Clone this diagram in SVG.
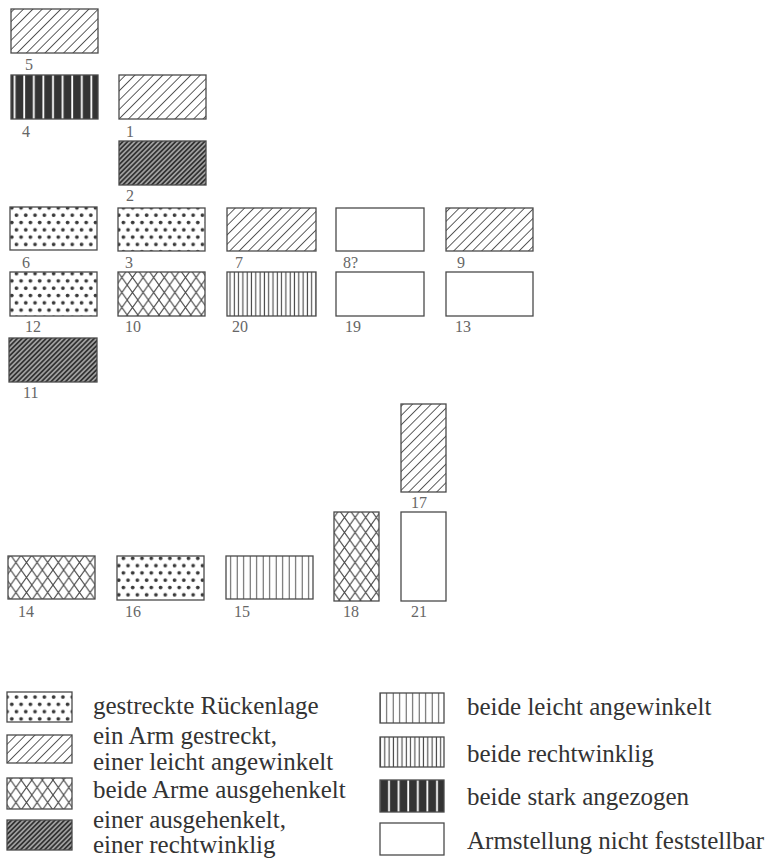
<svg xmlns="http://www.w3.org/2000/svg" width="777" height="859" viewBox="0 0 777 859">
<style>
.b{stroke:#4a4a4a;stroke-width:1.3}
.n{font-family:"Liberation Serif","Times New Roman",serif;font-size:16px;fill:#666}
.t{font-family:"Liberation Serif","Times New Roman",serif;font-size:25px;fill:#333}
</style>
<defs>
<pattern id="hatch" patternUnits="userSpaceOnUse" width="6.6" height="10" patternTransform="rotate(45)">
<rect width="6.6" height="10" fill="#fff"/>
<line x1="3.3" y1="0" x2="3.3" y2="10" stroke="#555" stroke-width="1"/>
</pattern>
<pattern id="dhatch" patternUnits="userSpaceOnUse" width="3.4" height="10" patternTransform="rotate(45)">
<rect width="3.4" height="10" fill="#333"/>
<line x1="1.7" y1="0" x2="1.7" y2="10" stroke="#fff" stroke-width="0.9"/>
</pattern>
<pattern id="dots" patternUnits="userSpaceOnUse" width="9.3" height="14.6">
<rect width="9.3" height="14.6" fill="#fff"/>
<circle cx="2.5" cy="3.5" r="1.9" fill="#383838"/>
<circle cx="7.15" cy="10.8" r="1.9" fill="#383838"/>
</pattern>
<pattern id="cross" patternUnits="userSpaceOnUse" width="10.6" height="15">
<rect width="10.6" height="15" fill="#fff"/>
<path d="M0,0 L10.6,15 M10.6,0 L0,15" stroke="#4a4a4a" stroke-width="1.1" fill="none"/>
</pattern>
<pattern id="lvert" patternUnits="userSpaceOnUse" width="6.5" height="10">
<rect width="6.5" height="10" fill="#fff"/>
<line x1="3.2" y1="0" x2="3.2" y2="10" stroke="#555" stroke-width="1"/>
</pattern>
<pattern id="dvert" patternUnits="userSpaceOnUse" width="4.3" height="10">
<rect width="4.3" height="10" fill="#fff"/>
<line x1="2.1" y1="0" x2="2.1" y2="10" stroke="#444" stroke-width="1.1"/>
</pattern>
<pattern id="bars" patternUnits="userSpaceOnUse" width="9.6" height="10">
<rect width="9.6" height="10" fill="#333"/>
<line x1="5" y1="0" x2="5" y2="10" stroke="#fff" stroke-width="1.8"/>
</pattern>
</defs>

<g id="n5"><rect class="b" x="11" y="9" width="87" height="44" fill="url(#hatch)"/><text class="n" x="25" y="70">5</text></g>
<g id="n4"><rect class="b" x="11" y="75" width="87" height="44" fill="url(#bars)"/><text class="n" x="22" y="137">4</text></g>
<g id="n1"><rect class="b" x="119" y="75" width="87" height="44" fill="url(#hatch)"/><text class="n" x="126" y="137">1</text></g>
<g id="n2"><rect class="b" x="119" y="141" width="87" height="44" fill="url(#dhatch)"/><text class="n" x="126" y="201">2</text></g>

<g id="n6"><rect class="b" x="10" y="207" width="87" height="43" fill="url(#dots)"/><text class="n" x="22" y="268">6</text></g>
<g id="n3"><rect class="b" x="118" y="208" width="87" height="43" fill="url(#dots)"/><text class="n" x="125" y="268">3</text></g>
<g id="n7"><rect class="b" x="227" y="208" width="89" height="43" fill="url(#hatch)"/><text class="n" x="235" y="268">7</text></g>
<g id="n8"><rect class="b" x="336" y="208" width="88" height="43" fill="#fff"/><text class="n" x="343" y="268">8?</text></g>
<g id="n9"><rect class="b" x="446" y="208" width="87" height="43" fill="url(#hatch)"/><text class="n" x="457" y="268">9</text></g>

<g id="n12"><rect class="b" x="10" y="272" width="87" height="44" fill="url(#dots)"/><text class="n" x="25" y="332">12</text></g>
<g id="n10"><rect class="b" x="118" y="272" width="87" height="44" fill="url(#cross)"/><text class="n" x="125" y="332">10</text></g>
<g id="n20"><rect class="b" x="227" y="272" width="89" height="44" fill="url(#dvert)"/><text class="n" x="232" y="332">20</text></g>
<g id="n19"><rect class="b" x="336" y="272" width="88" height="44" fill="#fff"/><text class="n" x="345" y="332">19</text></g>
<g id="n13"><rect class="b" x="446" y="272" width="87" height="44" fill="#fff"/><text class="n" x="455" y="332">13</text></g>

<g id="n11"><rect class="b" x="9" y="338" width="88" height="44" fill="url(#dhatch)"/><text class="n" x="23" y="398">11</text></g>

<g id="n17"><rect class="b" x="401" y="404" width="45" height="88" fill="url(#hatch)"/><text class="n" x="411" y="508">17</text></g>
<g id="n21"><rect class="b" x="401" y="512" width="45" height="89" fill="#fff"/><text class="n" x="411" y="617">21</text></g>
<g id="n18"><rect class="b" x="334" y="512" width="45" height="89" fill="url(#cross)"/><text class="n" x="343" y="617">18</text></g>
<g id="n14"><rect class="b" x="8" y="556" width="87" height="43" fill="url(#cross)"/><text class="n" x="18" y="617">14</text></g>
<g id="n16"><rect class="b" x="117" y="556" width="87" height="44" fill="url(#dots)"/><text class="n" x="125" y="617">16</text></g>
<g id="n15"><rect class="b" x="226" y="556" width="87" height="43" fill="url(#lvert)"/><text class="n" x="234" y="617">15</text></g>

<g id="connectors"></g>

<g id="legend">
<rect class="b" x="7" y="692" width="65" height="30" fill="url(#dots)"/>
<text class="t" x="93" y="714">gestreckte Rückenlage</text>
<rect class="b" x="7" y="735" width="65" height="28" fill="url(#hatch)"/>
<text class="t" x="93" y="744">ein Arm gestreckt,</text>
<text class="t" x="93" y="770">einer leicht angewinkelt</text>
<rect class="b" x="7" y="778" width="65" height="31" fill="url(#cross)"/>
<text class="t" x="93" y="798">beide Arme ausgehenkelt</text>
<rect class="b" x="7" y="820" width="65" height="30" fill="url(#dhatch)"/>
<text class="t" x="93" y="828">einer ausgehenkelt,</text>
<text class="t" x="93" y="853">einer rechtwinklig</text>

<rect class="b" x="380" y="693" width="64" height="30" fill="url(#lvert)"/>
<text class="t" x="467" y="715">beide leicht angewinkelt</text>
<rect class="b" x="380" y="737" width="64" height="30" fill="url(#dvert)"/>
<text class="t" x="467" y="762">beide rechtwinklig</text>
<rect class="b" x="380" y="780" width="64" height="32" fill="url(#bars)"/>
<text class="t" x="467" y="805">beide stark angezogen</text>
<rect class="b" x="380" y="823" width="64" height="32" fill="#fff"/>
<text class="t" x="467" y="849">Armstellung nicht feststellbar</text>
</g>
</svg>
